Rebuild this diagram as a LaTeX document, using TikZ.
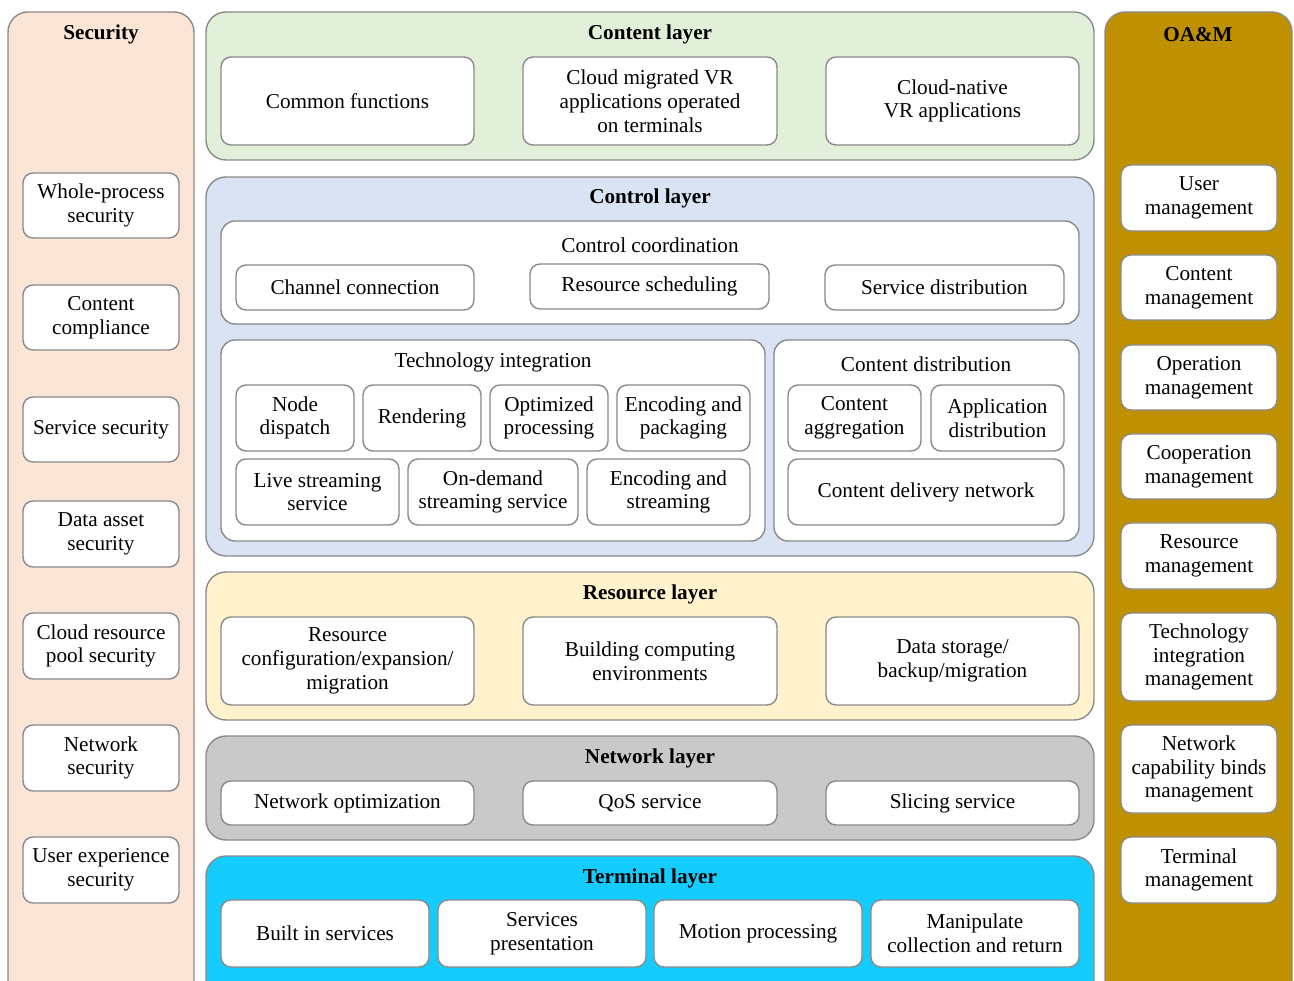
\documentclass[tikz,border=0pt]{standalone}
\usepackage{fontspec}
\setmainfont{Liberation Serif}
\definecolor{secfill}{HTML}{FBE5D6}
\definecolor{oamfill}{HTML}{BF9000}
\definecolor{contfill}{HTML}{E2F0D9}
\definecolor{ctrlfill}{HTML}{DAE3F3}
\definecolor{resfill}{HTML}{FFF2CC}
\definecolor{netfill}{HTML}{C9C9C9}
\definecolor{termfill}{HTML}{15CCFE}
\definecolor{edge}{HTML}{8A8A8A}
\newcommand\bx[7][]{\node[#1, minimum width={(#5-#3)*1pt}, minimum height={(#6-#4)*1pt}] (#2) at ({(#3+#5)/2},{(#4+#6)/2}) {#7};}
\tikzset{
  txt/.style={font=\fontsize{21.2}{23.8}\selectfont, align=center},
  layer/.style={draw=edge, line width=1.4pt, rounded corners=20pt, inner sep=0pt},
  ibox/.style={draw=edge, line width=1.4pt, rounded corners=10pt, fill=white, inner sep=0pt, txt},
  grp/.style={draw=edge, line width=1.4pt, rounded corners=14pt, fill=white, inner sep=0pt},
  ttl/.style={font=\fontsize{21.2}{23.8}\selectfont\bfseries, inner sep=0pt},
  sub/.style={txt, inner sep=0pt},
}
\begin{document}
\begin{tikzpicture}[x=1pt,y=-1pt]
\useasboundingbox (0,0) rectangle (1294,981);
\clip (0,0) rectangle (1294,981);
% columns
\bx[layer, fill=secfill]{secL}{8}{12}{194}{1010}{}
\node[ttl] (secT) at (101,34) {Security};
\bx[ibox]{s1}{23}{173}{179}{238}{Whole-process\\security}
\bx[ibox]{s2}{23}{285}{179}{350}{Content\\compliance}
\bx[ibox]{s3}{23}{397}{179}{462}{Service security}
\bx[ibox]{s4}{23}{501}{179}{567}{Data asset\\security}
\bx[ibox]{s5}{23}{613}{179}{679}{Cloud resource\\pool security}
\bx[ibox]{s6}{23}{725}{179}{791}{Network\\security}
\bx[ibox]{s7}{23}{837}{179}{903}{User experience\\security}

\bx[layer, fill=oamfill]{oamL}{1105}{12}{1292}{1010}{}
\node[ttl] (oamT) at (1198,35) {OA\&M};
\bx[ibox]{o1}{1121}{165}{1277}{231}{User\\management}
\bx[ibox]{o2}{1121}{255}{1277}{320}{Content\\management}
\bx[ibox]{o3}{1121}{345}{1277}{410}{Operation\\management}
\bx[ibox]{o4}{1121}{434}{1277}{499}{Cooperation\\management}
\bx[ibox]{o5}{1121}{523}{1277}{589}{Resource\\management}
\bx[ibox]{o6}{1121}{613}{1277}{701}{Technology\\integration\\management}
\bx[ibox]{o7}{1121}{725}{1277}{813}{Network\\capability binds\\management}
\bx[ibox]{o8}{1121}{837}{1277}{903}{Terminal\\management}

% content layer
\bx[layer, fill=contfill]{contL}{206}{12}{1094}{160}{}
\node[ttl] (contT) at (650,34) {Content layer};
\bx[ibox]{c1}{221}{57}{474}{145}{Common functions}
\bx[ibox]{c2}{523}{57}{777}{145}{Cloud migrated VR\\applications operated\\on terminals}
\bx[ibox]{c3}{826}{57}{1079}{145}{Cloud-native\\VR applications}

% control layer
\bx[layer, fill=ctrlfill]{ctrlL}{206}{177}{1094}{556}{}
\node[ttl] (ctrlT) at (650,198) {Control layer};
\bx[grp]{cc}{221}{221}{1079}{324}{}
\node[sub] (ccT) at (650,245) {Control coordination};
\bx[ibox]{cc1}{236}{265}{474}{310}{Channel connection}
\bx[ibox]{cc2}{530}{264}{769}{309}{Resource scheduling}
\bx[ibox]{cc3}{825}{265}{1064}{310}{Service distribution}

\bx[grp]{ti}{221}{340}{765}{541}{}
\node[sub] (tiT) at (493,362) {Technology integration};
\bx[ibox]{t1}{236}{385}{354}{451}{Node\\dispatch}
\bx[ibox]{t2}{363}{385}{481}{451}{Rendering}
\bx[ibox]{t3}{490}{385}{608}{451}{Optimized\\processing}
\bx[ibox]{t4}{617}{385}{750}{451}{Encoding and\\packaging}
\bx[ibox]{t5}{236}{459}{399}{525}{Live streaming\\service}
\bx[ibox]{t6}{408}{459}{578}{525}{On-demand\\streaming service}
\bx[ibox]{t7}{587}{459}{750}{525}{Encoding and\\streaming}

\bx[grp]{cd}{774}{340}{1079}{541}{}
\node[sub] (cdT) at (926,364) {Content distribution};
\bx[ibox]{d1}{788}{385}{921}{451}{Content\\aggregation}
\bx[ibox]{d2}{931}{385}{1064}{451}{Application\\distribution}
\bx[ibox]{d3}{788}{459}{1064}{525}{Content delivery network}

% resource layer
\bx[layer, fill=resfill]{resL}{206}{572}{1094}{720}{}
\node[ttl] (resT) at (650,594) {Resource layer};
\bx[ibox]{r1}{221}{617}{474}{705}{Resource\\configuration/expansion/\\migration}
\bx[ibox]{r2}{523}{617}{777}{705}{Building computing\\environments}
\bx[ibox]{r3}{826}{617}{1079}{705}{Data storage/\\backup/migration}

% network layer
\bx[layer, fill=netfill]{netL}{206}{736}{1094}{840}{}
\node[ttl] (netT) at (650,758) {Network layer};
\bx[ibox]{n1}{221}{781}{474}{825}{Network optimization}
\bx[ibox]{n2}{523}{781}{777}{825}{QoS service}
\bx[ibox]{n3}{826}{781}{1079}{825}{Slicing service}

% terminal layer
\bx[layer, fill=termfill]{termL}{206}{856}{1094}{1010}{}
\node[ttl] (termT) at (650,878) {Terminal layer};
\bx[ibox]{m1}{221}{900}{429}{967}{Built in services}
\bx[ibox]{m2}{438}{900}{646}{967}{Services\\presentation}
\bx[ibox]{m3}{654}{900}{862}{967}{Motion processing}
\bx[ibox]{m4}{871}{900}{1079}{967}{Manipulate\\collection and return}
\end{tikzpicture}
\end{document}
